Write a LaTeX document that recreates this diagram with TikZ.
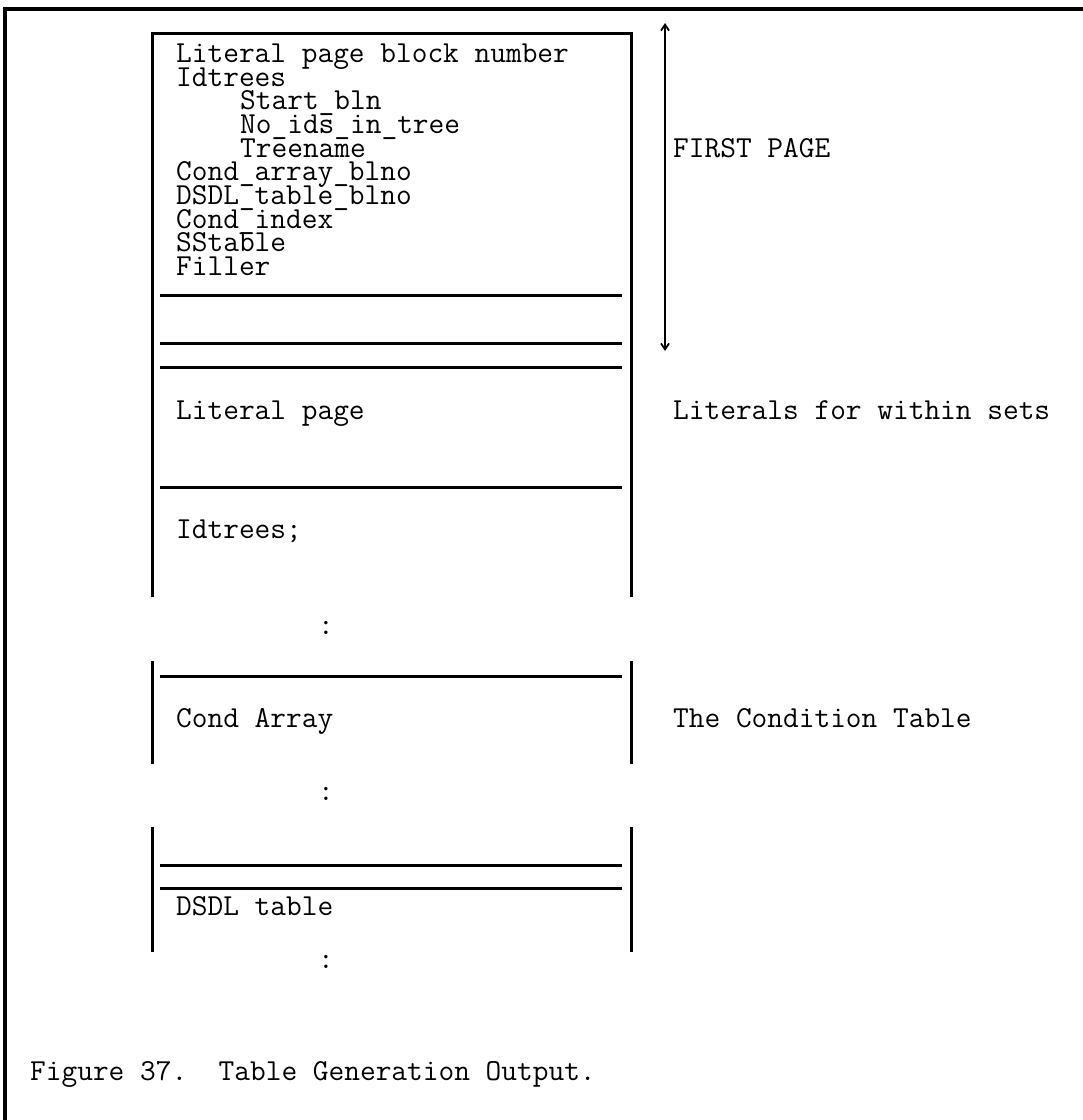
\documentclass[tikz,border=0pt]{standalone}
\usepackage{fontspec}
\usetikzlibrary{arrows.meta}
\begin{document}
\begin{tikzpicture}[x=1pt,y=-1pt,
  txt/.style={font=\fontsize{30.5}{24}\selectfont\ttfamily\addfontfeature{FakeBold=1.4}, inner sep=0pt, anchor=mid west, text height=1.4ex, text depth=0pt},
  sidel/.style={line width=3pt},
  rulel/.style={line width=3pt},
  framel/.style={line width=3.5pt},
  dbl/.style={line width=1.8pt, {Straight Barb[length=6pt,width=8pt]}-{Straight Barb[length=6pt,width=8pt]}}]
\useasboundingbox (0,0) rectangle (1083,1120);
% outer frame (left and top only)
\coordinate (fbl) at (5,1120);
\coordinate (ftl) at (5,9);
\coordinate (ftr) at (1083,9);
\draw[framel] (fbl) -- (ftl) -- (ftr);
% first block
\coordinate (b1bl) at (152,597);
\coordinate (b1tl) at (152,33);
\coordinate (b1tr) at (631,33);
\coordinate (b1br) at (631,597);
\draw[sidel, line join=miter] (b1bl) -- (b1tl) -- (b1tr) -- (b1br);
\foreach \yy in {295,343,367,487} \draw[rulel] (160,\yy) -- (622,\yy);
% second block
\draw[sidel] (152,661) -- (152,764);
\draw[sidel] (631,661) -- (631,764);
\draw[rulel] (160,676) -- (622,676);
% third block
\draw[sidel] (152,827) -- (152,952);
\draw[sidel] (631,827) -- (631,952);
\draw[rulel] (160,865) -- (622,865);
\draw[rulel] (160,888) -- (622,888);
% first page arrow
\coordinate (atop) at (665,23);
\coordinate (abot) at (665,351);
\draw[dbl] (atop) -- (abot);
% texts in first block
\node[txt] (t1) at (176,60) {Literal page block number};
\node[txt] (t2) at (176,84) {Idtrees};
\node[txt] (t3) at (240,107) {Start\_bln};
\node[txt] (t4) at (240,131) {No\_ids\_in\_tree};
\node[txt] (t5) at (240,155) {Treename};
\node[txt] (t6) at (176,178) {Cond\_array\_blno};
\node[txt] (t7) at (176,202) {DSDL\_table\_blno};
\node[txt] (t8) at (176,226) {Cond\_index};
\node[txt] (t9) at (176,249) {SStable};
\node[txt] (t10) at (176,273) {Filler};
\node[txt] (lp) at (176,417) {Literal page};
\node[txt] (idt) at (176,536) {Idtrees;};
\node[txt, anchor=center] (c1) at (326,631) {:};
\node[txt] (ca) at (176,725) {Cond Array};
\node[txt, anchor=center] (c2) at (326,797) {:};
\node[txt] (dt) at (176,913) {DSDL table};
\node[txt, anchor=center] (c3) at (326,965) {:};
% right-hand labels
\node[txt] (fp) at (673,155) {FIRST PAGE};
\node[txt] (lw) at (673,417) {Literals for within sets};
\node[txt] (ct) at (673,725) {The Condition Table};
% caption
\node[txt] (cap) at (30,1078) {Figure~37.~~Table Generation Output.};
\end{tikzpicture}
\end{document}
